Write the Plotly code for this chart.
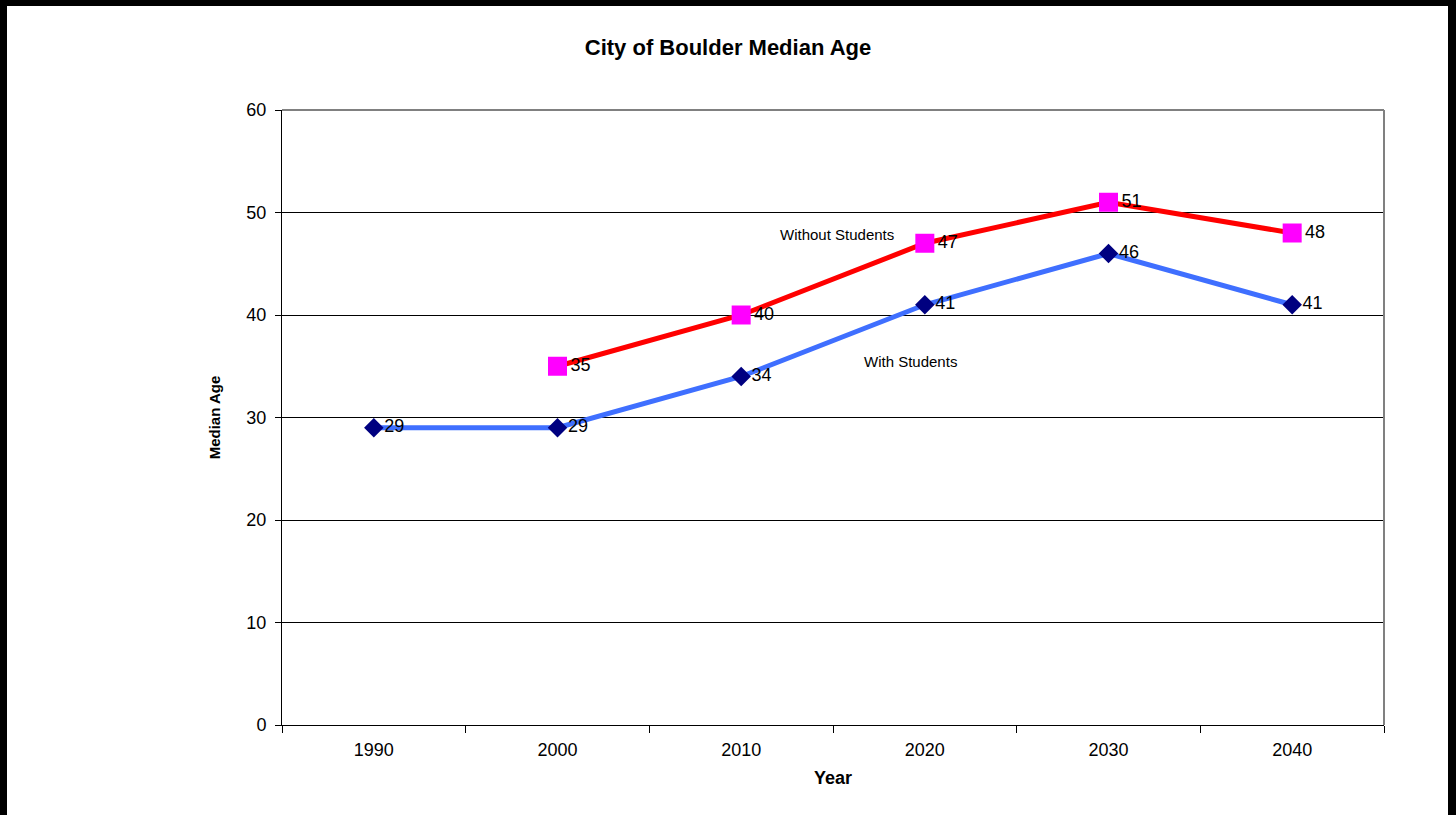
import plotly.graph_objects as go

years = [1990, 2000, 2010, 2020, 2030, 2040]
with_students = [29, 29, 34, 41, 46, 41]
without_years = [2000, 2010, 2020, 2030, 2040]
without_students = [35, 40, 47, 51, 48]

W, H = 1456, 815
L, R, T, B = 282, 72, 110, 90
pw, ph = W - L - R, H - T - B
FONT = "Liberation Sans, Arial, sans-serif"

def px_x(x):
    return (x - L) / pw

def px_y(y):
    return (H - B - y) / ph

fig = go.Figure()
fig.add_trace(go.Scatter(
    x=years, y=with_students, mode="lines+markers+text",
    line=dict(color="#3f6fff", width=5),
    marker=dict(symbol="diamond", size=15, color="#000080"),
    text=[str(v) for v in with_students], textposition="middle right",
    textfont=dict(family=FONT, size=18, color="black"),
    name="With Students", cliponaxis=False))
fig.add_trace(go.Scatter(
    x=without_years, y=without_students, mode="lines+markers+text",
    line=dict(color="#ff0000", width=5),
    marker=dict(symbol="square", size=19, color="#ff00ff"),
    text=[str(v) for v in without_students], textposition="middle right",
    textfont=dict(family=FONT, size=18, color="black"),
    name="Without Students", cliponaxis=False))

shapes = [
    dict(type="line", xref="paper", yref="paper", x0=0, x1=1, y0=1, y1=1, line=dict(color="#808080", width=2)),
    dict(type="line", xref="paper", yref="paper", x0=1, x1=1, y0=0, y1=1, line=dict(color="#808080", width=2)),
    dict(type="rect", xref="paper", yref="paper", x0=px_x(-5), x1=px_x(7), y0=px_y(H + 5), y1=px_y(-5),
         fillcolor="black", line=dict(width=0), layer="above"),
    dict(type="rect", xref="paper", yref="paper", x0=px_x(-5), x1=px_x(W + 5), y0=px_y(6), y1=px_y(-5),
         fillcolor="black", line=dict(width=0), layer="above"),
    dict(type="rect", xref="paper", yref="paper", x0=px_x(1448), x1=px_x(W + 5), y0=px_y(H + 5), y1=px_y(-5),
         fillcolor="black", line=dict(width=0), layer="above"),
]

annotations = [
    dict(text="Without Students", x=2015.2, y=47.9, xref="x", yref="y", showarrow=False,
         font=dict(family=FONT, size=15, color="black"), xanchor="center"),
    dict(text="With Students", x=2019.2, y=35.5, xref="x", yref="y", showarrow=False,
         font=dict(family=FONT, size=15, color="black"), xanchor="center"),
]

fig.update_layout(
    width=W, height=H,
    margin=dict(l=L, r=R, t=T, b=B, autoexpand=False),
    paper_bgcolor="white", plot_bgcolor="white",
    showlegend=False,
    title=dict(text="<b>City of Boulder Median Age</b>", x=0.5, xref="container", xanchor="center",
               y=1 - 47 / H, yanchor="middle",
               font=dict(family=FONT, size=22, color="black")),
    font=dict(family=FONT, size=18, color="black"),
    shapes=shapes, annotations=annotations,
)
fig.update_xaxes(
    range=[1985, 2045], tickvals=years, ticktext=[str(y) for y in years],
    ticks="", showgrid=False, zeroline=False,
    showline=True, linecolor="black", linewidth=1,
    minor=dict(tick0=1985, dtick=10, ticks="outside", ticklen=7, tickcolor="black", showgrid=False),
    tickfont=dict(size=18), ticklabelstandoff=8,
    title=dict(text="<b>Year</b>", font=dict(size=18), standoff=12),
)
fig.update_yaxes(
    range=[0, 60], dtick=10, ticks="outside", ticklen=6, tickcolor="black",
    showgrid=True, gridcolor="black", gridwidth=1, zeroline=False,
    showline=True, linecolor="black", linewidth=1,
    tickfont=dict(size=18), ticklabelstandoff=5,
    title=dict(text="<b>Median Age</b>", font=dict(size=15), standoff=22),
)

fig.write_html("out.html", config={"displayModeBar": False},
               post_script="document.body.style.margin='0';")
